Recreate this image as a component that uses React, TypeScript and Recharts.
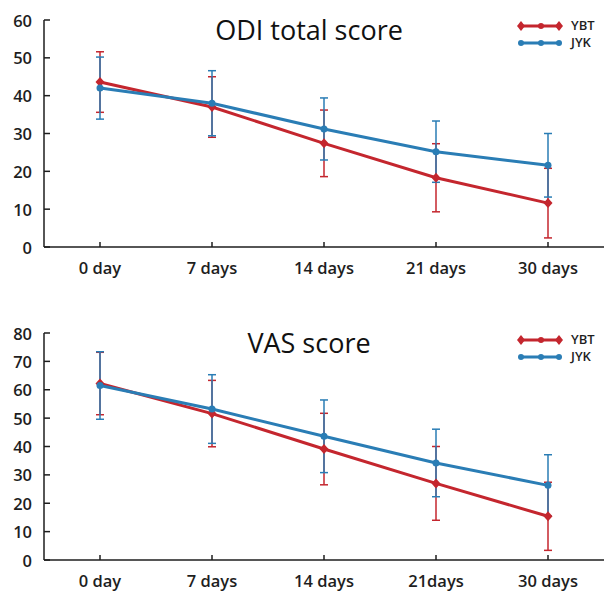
import { LineChart, Line, XAxis, YAxis, ErrorBar } from 'recharts'

const RED = '#c4262e'
const BLUE = '#2a7db5'
const INK = '#1e1e1e'
const FONT = '"Open Sans", "Noto Sans", sans-serif'

const odiDays = ['0 day', '7 days', '14 days', '21 days', '30 days']
const odiYbt = [43.6, 37.0, 27.4, 18.3, 11.6]
const odiYbtSd = [8.0, 8.0, 8.8, 9.0, 9.2]
const odiJyk = [42.0, 38.0, 31.2, 25.2, 21.6]
const odiJykSd = [8.2, 8.6, 8.2, 8.1, 8.4]
const odiTicks = [0, 10, 20, 30, 40, 50, 60]

const vasDays = ['0 day', '7 days', '14 days', '21days', '30 days']
const vasYbt = [62.2, 51.6, 39.1, 27.0, 15.4]
const vasYbtSd = [11.0, 11.7, 12.6, 13.0, 12.0]
const vasJyk = [61.5, 53.2, 43.6, 34.2, 26.3]
const vasJykSd = [11.9, 12.1, 12.8, 11.9, 10.8]
const vasTicks = [0, 10, 20, 30, 40, 50, 60, 70, 80]

function rows(days: string[], ybt: number[], ybtSd: number[], jyk: number[], jykSd: number[]) {
  return days.map((d, i) => ({ day: d, ybt: ybt[i], ybtErr: ybtSd[i], jyk: jyk[i], jykErr: jykSd[i] }))
}

const XTick = (props: any) => {
  const { x, y, payload } = props
  // tickSize 0, tickMargin 20 -> axis line sits 20px above y
  return (
    <g>
      <line x1={x} y1={y - 20} x2={x} y2={y - 25} stroke={INK} strokeWidth={1.5} />
      <text x={x} y={y} textAnchor="middle" dominantBaseline="central" fontSize={16.5} fontWeight={600} fill={INK} fontFamily={FONT}>
        {payload.value}
      </text>
    </g>
  )
}

const YTick = (props: any) => {
  const { x, y, payload } = props
  return (
    <g>
      <line x1={x + 12} y1={y} x2={x + 18} y2={y} stroke={INK} strokeWidth={1.5} />
      <text x={x} y={y} textAnchor="end" dominantBaseline="central" fontSize={16.5} fontWeight={600} fill={INK} fontFamily={FONT}>
        {payload.value}
      </text>
    </g>
  )
}

const Diamond = (props: any) => {
  const { cx, cy, index } = props
  if (cx == null || cy == null) return <g key={index} />
  return <path key={index} d={`M${cx},${cy - 5}L${cx + 4.5},${cy}L${cx},${cy + 5}L${cx - 4.5},${cy}Z`} fill={RED} />
}

function LegendBox({ top }: { top: number }) {
  return (
    <div style={{ position: 'absolute', left: 517, top, width: 88, fontFamily: FONT, fontSize: 13, color: INK, lineHeight: '17px' }}>
      <div style={{ display: 'flex', alignItems: 'center', height: 17 }}>
        <svg width={46} height={12}>
          <line x1={3} y1={6} x2={43} y2={6} stroke={RED} strokeWidth={3} />
          <path d="M3,1L7,6L3,11L-1,6Z" fill={RED} transform="translate(1,0)" />
          <circle cx={24} cy={6} r={3} fill={RED} />
          <path d="M43,1L47,6L43,11L39,6Z" fill={RED} transform="translate(-1,0)" />
        </svg>
        <span style={{ marginLeft: 8, fontWeight: 600 }}>YBT</span>
      </div>
      <div style={{ display: 'flex', alignItems: 'center', height: 17 }}>
        <svg width={46} height={12}>
          <line x1={3} y1={6} x2={43} y2={6} stroke={BLUE} strokeWidth={3} />
          <circle cx={4} cy={6} r={3} fill={BLUE} />
          <circle cx={24} cy={6} r={3} fill={BLUE} />
          <circle cx={42} cy={6} r={3} fill={BLUE} />
        </svg>
        <span style={{ marginLeft: 8, fontWeight: 600 }}>JYK</span>
      </div>
    </div>
  )
}

function Panel({ data, ticks, max, marginTop, height }: { data: any[]; ticks: number[]; max: number; marginTop: number; height: number }) {
  return (
    <LineChart width={605} height={height} data={data} margin={{ top: marginTop, right: 1, bottom: 0, left: 0 }}>
      <XAxis
        dataKey="day"
        padding={{ left: 56, right: 56 }}
        axisLine={{ stroke: INK, strokeWidth: 1.5 }}
        tickLine={false}
        tickSize={0}
        tickMargin={20}
        tick={<XTick />}
        height={height - marginTop - 227}
        interval={0}
      />
      <YAxis
        domain={[0, max]}
        ticks={ticks}
        width={44}
        axisLine={{ stroke: INK, strokeWidth: 1.5 }}
        tickLine={false}
        tickSize={0}
        tickMargin={12}
        tick={<YTick />}
        interval={0}
      />
      <Line dataKey="ybt" stroke={RED} strokeWidth={3} dot={<Diamond />} isAnimationActive={false}>
        <ErrorBar dataKey="ybtErr" direction="y" width={4} stroke={RED} strokeWidth={1.5} />
      </Line>
      <Line dataKey="jyk" stroke={BLUE} strokeWidth={3} dot={{ r: 3.5, fill: BLUE, stroke: BLUE, strokeWidth: 0 }} isAnimationActive={false}>
        <ErrorBar dataKey="jykErr" direction="y" width={4} stroke={BLUE} strokeWidth={1.5} />
      </Line>
    </LineChart>
  )
}

export default function App() {
  const odi = rows(odiDays, odiYbt, odiYbtSd, odiJyk, odiJykSd)
  const vas = rows(vasDays, vasYbt, vasYbtSd, vasJyk, vasJykSd)
  return (
    <div style={{ position: 'absolute', left: 0, top: 0, width: 605, height: 592, background: '#fff', fontFamily: FONT }}>
      <div style={{ position: 'absolute', left: 0, top: 0 }}>
        <Panel data={odi} ticks={odiTicks} max={60} marginTop={20} height={292} />
      </div>
      <div style={{ position: 'absolute', left: 0, top: 300 }}>
        <Panel data={vas} ticks={vasTicks} max={80} marginTop={33} height={292} />
      </div>
      <div style={{ position: 'absolute', left: 0, width: 618, top: 11, textAlign: 'center', fontSize: 27, lineHeight: '37px', color: '#111' }}>ODI total score</div>
      <div style={{ position: 'absolute', left: 0, width: 618, top: 324, textAlign: 'center', fontSize: 27, lineHeight: '37px', color: '#111' }}>VAS score</div>
      <LegendBox top={17} />
      <LegendBox top={331} />
    </div>
  )
}
